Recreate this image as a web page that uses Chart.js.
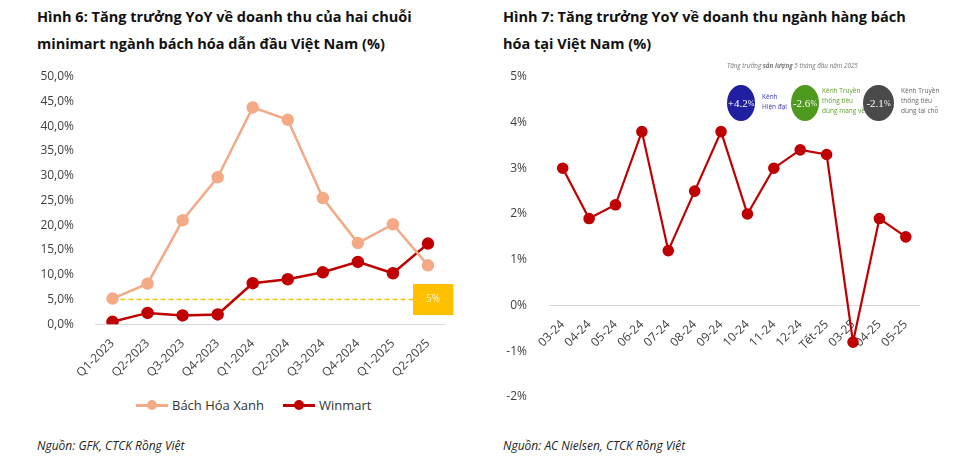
<!DOCTYPE html>
<html lang="vi">
<head>
<meta charset="utf-8">
<script src="https://cdn.jsdelivr.net/npm/chart.js@4.4.1/dist/chart.umd.min.js"></script>
<style>
  html, body { margin: 0; padding: 0; background: #fff; }
  body { width: 964px; height: 473px; position: relative; overflow: hidden; font-family: "Open Sans", sans-serif; }
  .title { position: absolute; font-weight: 700; font-size: 14.5px; line-height: 27px; color: #111; white-space: nowrap; }
  .source { position: absolute; top: 437px; font-style: italic; font-size: 12px; color: #222; white-space: nowrap; }
  .wrap { position: absolute; }
  .legend { position: absolute; top: 396px; left: 136px; font-size: 13px; color: #333; display: flex; align-items: center; white-space: nowrap; }
  .legend .key { position: relative; width: 32px; height: 3px; margin-right: 4px; }
  .legend .key::after { content: ""; position: absolute; left: 11px; top: -3.5px; width: 10px; height: 10px; border-radius: 50%; background: inherit; }
  .info { position: absolute; font-size: 6.5px; line-height: 10px; white-space: nowrap; }
  .blob { position: absolute; border-radius: 50%; color: #fff; font-family: "Liberation Serif", serif; font-size: 11px; display: flex; align-items: center; justify-content: center; }
  .blob small { font-size: 8px; }
</style>
</head>
<body>

<div class="title" style="left:37px; top:3px;">Hình 6: Tăng trưởng YoY về doanh thu của hai chuỗi<br>minimart ngành bách hóa dẫn đầu Việt Nam (%)</div>
<div class="title" style="left:503px; top:3px;">Hình 7: Tăng trưởng YoY về doanh thu ngành hàng bách<br>hóa tại Việt Nam (%)</div>

<div class="wrap" style="left:0; top:60px; width:480px; height:320px;"><canvas id="chainChart"></canvas></div>
<div class="wrap" style="left:480px; top:60px; width:484px; height:350px;"><canvas id="retailChart"></canvas></div>

<div class="legend">
  <span class="key" style="background:#F4AA86;"></span><span>Bách Hóa Xanh</span>
  <span style="width:19px;"></span>
  <span class="key" style="background:#C00000;"></span><span>Winmart</span>
</div>

<!-- infographic on figure 7 -->
<div class="info" style="left:727px; top:61px; color:#777; font-style:italic; font-size:6.3px;">Tăng trưởng <b>sản lượng</b> 5 tháng đầu năm 2025</div>
<div class="blob" style="left:727px; top:85px; width:28px; height:36px; background:#1F1FA0;">+4.2<small>%</small></div>
<div class="info" style="left:762px; top:92px; color:#3a3ab0;">Kênh<br>Hiện đại</div>
<div class="blob" style="left:791px; top:85px; width:28px; height:36px; background:#4E9A1E;">-2.6<small>%</small></div>
<div class="info" style="left:822px; top:86px; color:#5f9f2a;">Kênh Truyền<br>thống tiêu<br>dùng mang về</div>
<div class="blob" style="left:863px; top:85px; width:31px; height:36px; background:#4a4a4a;">-2.1<small>%</small></div>
<div class="info" style="left:901px; top:86px; color:#666;">Kênh Truyền<br>thống tiêu<br>dùng tại chỗ</div>

<div class="source" style="left:37px;">Nguồn: GFK, CTCK Rồng Việt</div>
<div class="source" style="left:503px;">Nguồn: AC Nielsen, CTCK Rồng Việt</div>

<script>
// Figure 6 data
const quarters = ['Q1-2023', 'Q2-2023', 'Q3-2023', 'Q4-2023', 'Q1-2024', 'Q2-2024', 'Q3-2024', 'Q4-2024', 'Q1-2025', 'Q2-2025'];
const bachHoaXanh = [5.2, 8.2, 21.0, 29.7, 43.8, 41.3, 25.5, 16.4, 20.2, 11.9];
const winmart = [0.5, 2.3, 1.8, 2.0, 8.3, 9.1, 10.5, 12.6, 10.3, 16.3];
const threshold = 5;

// Figure 7 data
const months = ['03-24', '04-24', '05-24', '06-24', '07-24', '08-24', '09-24', '10-24', '11-24', '12-24', 'Tết-25', '03-25', '04-25', '05-25'];
const retailYoY = [3.0, 1.9, 2.2, 3.8, 1.2, 2.5, 3.8, 2.0, 3.0, 3.4, 3.3, -0.8, 1.9, 1.5];

Chart.defaults.font.family = '"Open Sans", sans-serif';
Chart.defaults.color = '#404040';
Chart.defaults.animation = false;

const tickFont = { size: 12 };

// fixed y-axis width; ticks.padding would otherwise also pad the plot top/bottom
const fixYAxis = (w) => (s) => {
    s.width = w;
    s.paddingTop = 7;
    s.paddingBottom = 7;
};

// yellow 5% label box at the end of the dashed line
const thresholdBox = {
    id: 'thresholdBox',
    afterDatasetsDraw(chart) {
        const { ctx, scales: { x, y } } = chart;
        const py = y.getPixelForValue(threshold);
        const px = x.getPixelForValue(quarters.length - 1);
        ctx.save();
        ctx.fillStyle = '#FFC000';
        ctx.fillRect(px - 15, py - 15.5, 40.5, 31);
        ctx.fillStyle = '#FFF3D0';
        ctx.font = '10px "Open Sans"';
        ctx.textAlign = 'center';
        ctx.textBaseline = 'middle';
        ctx.fillText(threshold + '%', px + 5, py);
        ctx.restore();
    }
};

new Chart(document.getElementById('chainChart'), {
    type: 'line',
    data: {
        labels: quarters,
        datasets: [
            {
                label: 'Bách Hóa Xanh',
                data: bachHoaXanh,
                borderColor: '#F4AA86',
                backgroundColor: '#F4AA86',
                borderWidth: 2.5,
                pointRadius: 5,
                pointHoverRadius: 5,
                tension: 0
            },
            {
                label: 'Winmart',
                data: winmart,
                borderColor: '#C00000',
                backgroundColor: '#C00000',
                borderWidth: 2.5,
                pointRadius: 5,
                pointHoverRadius: 5,
                tension: 0
            },
            {
                label: '5%',
                data: quarters.map(() => threshold),
                borderColor: '#FFC000',
                borderWidth: 1.5,
                borderDash: [5, 3],
                pointRadius: 0
            }
        ]
    },
    options: {
        responsive: true,
        maintainAspectRatio: false,
        layout: { padding: { top: 16.7, right: 34.5, left: 0, bottom: 0 } },
        plugins: { legend: { display: false }, tooltip: { enabled: false } },
        scales: {
            x: {
                offset: true,
                grid: { display: false },
                border: { display: true, color: '#d9d9d9', width: 1 },
                ticks: { font: tickFont, maxRotation: 45, minRotation: 45, padding: 4 },
                afterFit: (s) => { s.height = 55.7; }
            },
            y: {
                min: 0,
                max: 50,
                grid: { display: false },
                border: { display: false },
                ticks: {
                    stepSize: 5,
                    font: tickFont,
                    padding: 13,
                    callback: (v) => v.toFixed(1).replace('.', ',') + '%'
                },
                afterFit: fixYAxis(95)
            }
        }
    },
    plugins: [thresholdBox]
});

new Chart(document.getElementById('retailChart'), {
    type: 'line',
    data: {
        labels: months,
        datasets: [{
            label: 'YoY',
            data: retailYoY,
            borderColor: '#C00000',
            backgroundColor: '#C00000',
            borderWidth: 2.2,
            pointRadius: 4.7,
            pointHoverRadius: 4.7,
            tension: 0
        }]
    },
    options: {
        responsive: true,
        maintainAspectRatio: false,
        layout: { padding: { top: 16.7, right: 45, left: 0, bottom: 13 } },
        plugins: { legend: { display: false }, tooltip: { enabled: false } },
        scales: {
            x: {
                position: { y: 0 },
                offset: true,
                grid: { display: false },
                border: { display: true, color: '#d9d9d9', width: 1 },
                ticks: { font: tickFont, maxRotation: 45, minRotation: 45, padding: 4 }
            },
            y: {
                min: -2,
                max: 5,
                grid: { display: false },
                border: { display: false },
                ticks: {
                    stepSize: 1,
                    font: tickFont,
                    padding: 14.5,
                    callback: (v) => v + '%'
                },
                afterFit: fixYAxis(69.5)
            }
        }
    }
});
</script>
</body>
</html>
